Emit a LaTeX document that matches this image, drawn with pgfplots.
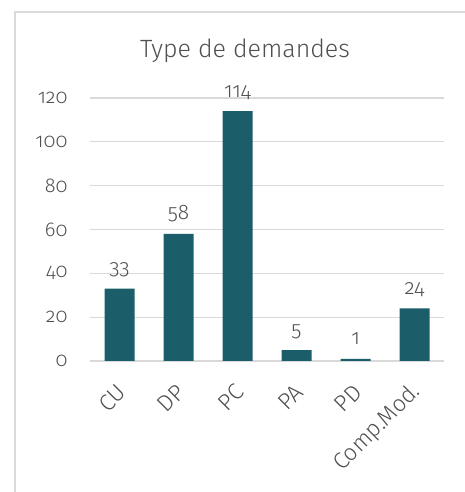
\documentclass[border=0pt]{standalone}
\usepackage{pgfplots}
\pgfplotsset{compat=1.18}
\usepackage{fontspec}
\setmainfont{Fira Sans Light}[Numbers=OldStyle]
\definecolor{barcol}{HTML}{1B5E6A}
\definecolor{txt}{HTML}{505050}
\definecolor{gridcol}{HTML}{D9D9D9}
\begin{document}
\begin{tikzpicture}[x=1pt,y=1pt]
\path[use as bounding box] (0,0) rectangle (465,492);
\draw[gridcol, line width=1.5pt] (15,0) -- (15,480) -- (465,480);
\node[txt, font=\fontsize{25}{30}\selectfont, anchor=base] at (245,434) {Type de demandes};
\begin{axis}[
    at={(90pt,131pt)}, anchor=south west,
    scale only axis, width=354pt, height=263pt,
    xmin=-0.5, xmax=5.5, ymin=0, ymax=120,
    ybar, bar width=30pt,
    axis line style={draw=none},
    tick style={draw=none},
    ymajorgrids, grid style={gridcol, line width=1.2pt},
    xtick={0,...,5},
    xticklabels={CU,DP,PC,PA,PD,Comp.Mod.},
    ytick={0,20,...,120},
    /pgf/number format/assume math mode=true,
    ticklabel style={txt, font=\fontsize{20}{24}\selectfont},
    yticklabel style={anchor=east, xshift=-19pt},
    xticklabel style={rotate=45, anchor=east, font=\fontsize{23}{26}\selectfont, yshift=-18pt, xshift=-11pt},
    nodes near coords,
    nodes near coords style={txt, font=\fontsize{21}{24}\selectfont, anchor=base, yshift=14pt},
  ]
  \addplot[fill=barcol, draw=none] coordinates {
    (0,33) (1,58) (2,114) (3,5) (4,1) (5,24)
  };
\end{axis}
\end{tikzpicture}
\end{document}
